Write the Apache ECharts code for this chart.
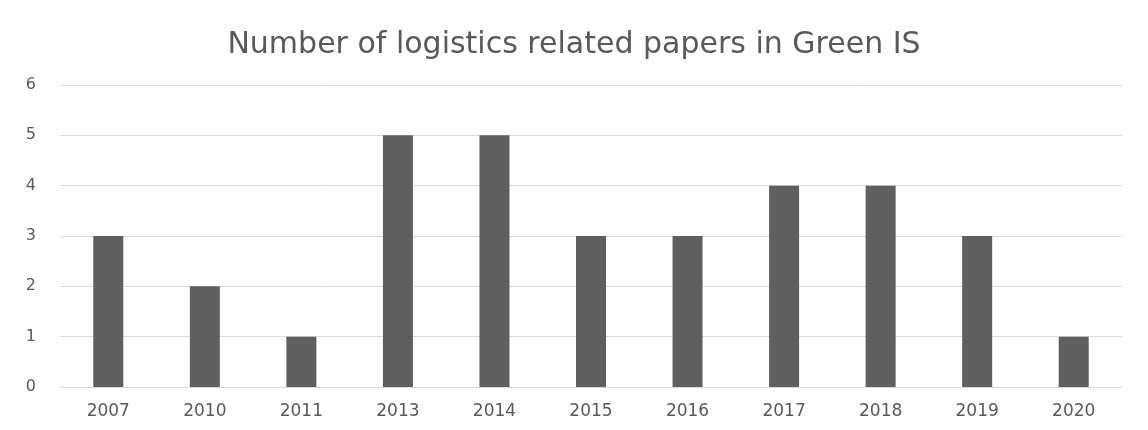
<!DOCTYPE html>
<html>
<head>
<meta charset="utf-8">
<script src="https://cdn.jsdelivr.net/npm/echarts@6/dist/echarts.min.js"></script>
<style>
    html, body { margin: 0; padding: 0; background: #fff; }
    #chart { width: 1148px; height: 430px; }
</style>
</head>
<body>
<div id="chart"></div>
<script>
// 年份与论文数
var years = ['2007', '2010', '2011', '2013', '2014', '2015', '2016', '2017', '2018', '2019', '2020'];
var papers = [3, 2, 1, 5, 5, 3, 3, 4, 4, 3, 1];
var yTicks = [0, 1, 2, 3, 4, 5, 6];

initChart('chart');

/**
 * 初始化柱状图
 * @param id 容器id
 */
function initChart(id) {
    var container = echarts.init(document.getElementById(id));
    var option = {
        animation: false,
        title: {
            text: 'Number of logistics related papers in Green IS',
            left: 'center',
            top: 25,
            textStyle: {
                color: '#595959',
                fontFamily: 'DejaVu Sans',
                fontWeight: 'normal',
                fontSize: 30
            }
        },
        grid: {
            left: 60,
            right: 26,
            top: 85,
            bottom: 43
        },
        xAxis: {
            type: 'category',
            data: years,
            axisLine: { lineStyle: { color: '#d9d9d9' } },
            axisTick: { show: false },
            axisLabel: {
                color: '#595959',
                fontFamily: 'DejaVu Sans',
                fontSize: 17,
                margin: 16
            }
        },
        yAxis: {
            type: 'value',
            min: yTicks[0],
            max: yTicks[yTicks.length - 1],
            interval: 1,
            axisLine: { show: false },
            axisTick: { show: false },
            splitLine: { lineStyle: { color: '#d9d9d9' } },
            axisLabel: {
                color: '#595959',
                fontFamily: 'DejaVu Sans',
                fontSize: 16,
                margin: 24
            }
        },
        series: [
            {
                name: 'Papers',
                type: 'bar',
                data: papers,
                barWidth: 30,
                itemStyle: { color: '#5f5f5f' }
            }
        ]
    };
    container.setOption(option);
}
</script>
</body>
</html>
